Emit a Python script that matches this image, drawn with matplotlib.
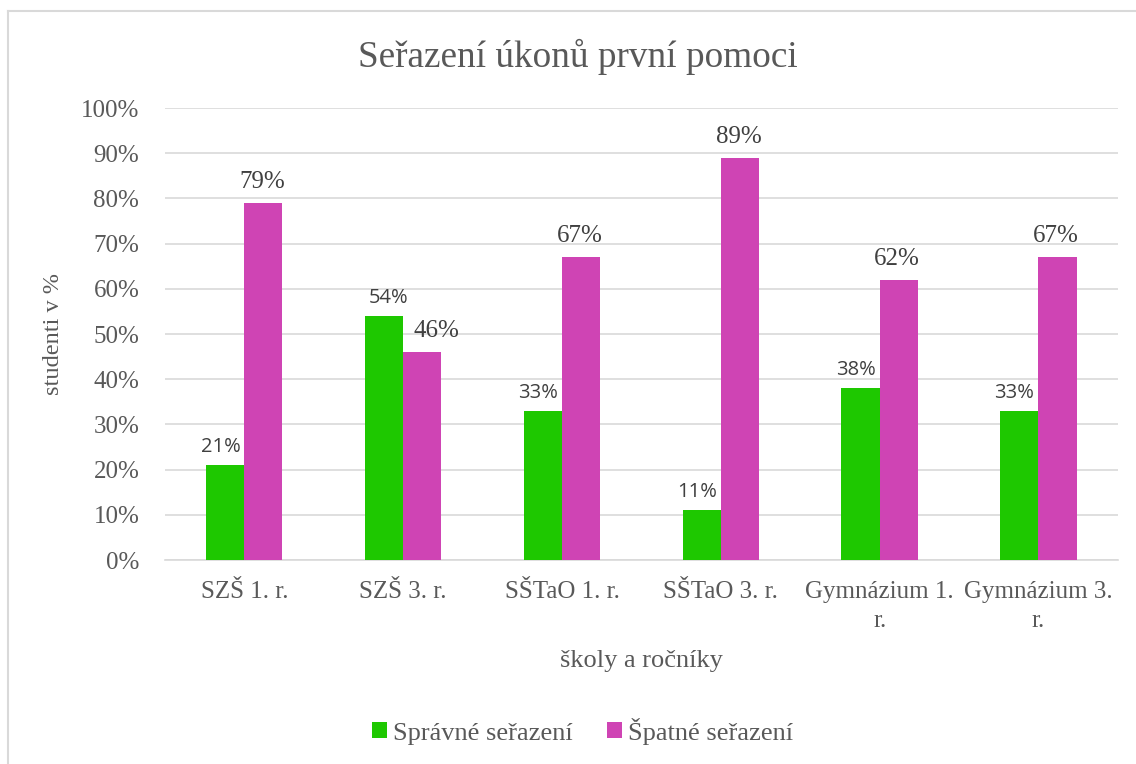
import matplotlib
matplotlib.use("Agg")
import matplotlib.pyplot as plt
from matplotlib.lines import Line2D
import numpy as np

categories = ["SZŠ 1. r.", "SZŠ 3. r.", "SŠTaO 1. r.", "SŠTaO 3. r.", "Gymnázium 1.\nr.", "Gymnázium 3.\nr."]
spravne = [21, 54, 33, 11, 38, 33]
spatne = [79, 46, 67, 89, 62, 67]
series_names = ["Správné seřazení", "Špatné seřazení"]
title = "Seřazení úkonů první pomoci"
xlabel = "školy a ročníky"
ylabel = "studenti v %"

GREEN = "#1EC800"
MAGENTA = "#CF44B4"
TXT = "#595959"
GRID = "#D9D9D9"
SERIF = ["Liberation Serif", "DejaVu Serif"]
SANS = ["Open Sans", "DejaVu Sans"]

fig = plt.figure(figsize=(11.36, 7.64), dpi=100)
ax = fig.add_axes([0.1452, 0.267, 0.8388, 0.5916])

x = np.arange(len(categories))
w = 0.24
b1 = ax.bar(x - w/2, spravne, w, color=GREEN, label=series_names[0], zorder=3)
b2 = ax.bar(x + w/2, spatne, w, color=MAGENTA, label=series_names[1], zorder=3)

for i, (rect, v) in enumerate(zip(b1, spravne)):
    dx = 3 if v > spatne[i] else -3.5
    ax.annotate(f"{v}%", (rect.get_x() + rect.get_width()/2, v), xytext=(dx, 6),
                textcoords="offset points", ha="center", va="bottom",
                fontsize=14.5, color="#404040", family=SANS)
for i, (rect, v) in enumerate(zip(b2, spatne)):
    dx = 10 if spravne[i] > v else -1
    ax.annotate(f"{v}%", (rect.get_x() + rect.get_width()/2, v), xytext=(dx, 7),
                textcoords="offset points", ha="center", va="bottom",
                fontsize=18, color="#404040", family=SERIF)

ax.set_xlim(-0.5, len(categories) - 0.5)
ax.set_ylim(0, 100)
ax.set_yticks(np.arange(0, 101, 10))
ax.set_yticklabels([f"{t}%" for t in range(0, 101, 10)], family=SERIF, fontsize=18, color=TXT)
ax.set_xticks(x)
ax.set_xticklabels(categories, family=SERIF, fontsize=18, color=TXT, linespacing=1.4, va="top")
ax.tick_params(axis="both", length=0)
ax.tick_params(axis="y", pad=18.5)
ax.tick_params(axis="x", pad=15)
ax.grid(axis="y", color=GRID, linewidth=1.2, zorder=0)
for s in ["top", "right", "left"]:
    ax.spines[s].set_visible(False)
ax.spines["bottom"].set_color(GRID)
ax.spines["bottom"].set_linewidth(1.2)

ax.set_xlabel(xlabel, family=SERIF, fontsize=19, color=TXT, labelpad=13)
ax.set_ylabel(ylabel, family=SERIF, fontsize=17.5, color=TXT, labelpad=12)
fig.text(0.509, 0.926, title, ha="center", va="center", family=SERIF, fontsize=26.8, color=TXT)

leg = fig.legend(loc="center", bbox_to_anchor=(0.513, 0.043), ncol=2, frameon=False,
                 prop={"family": SERIF, "size": 19}, handlelength=0.55, handleheight=0.55,
                 handletextpad=0.25, columnspacing=1.3)
for t in leg.get_texts():
    t.set_color(TXT)

fig.add_artist(Line2D([8/1136, 8/1136], [0, 1 - 11/764], transform=fig.transFigure, color=GRID, linewidth=1.5))
fig.add_artist(Line2D([8/1136, 1], [1 - 11/764, 1 - 11/764], transform=fig.transFigure, color=GRID, linewidth=1.5))

fig.savefig("out.png", dpi=100)
